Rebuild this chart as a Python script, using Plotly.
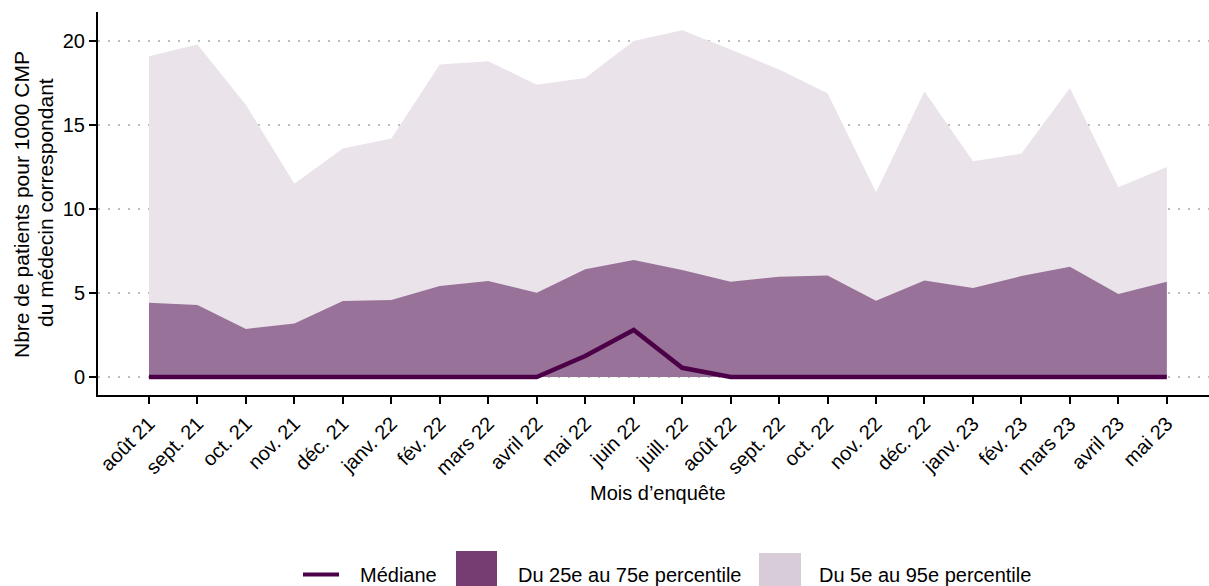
import plotly.graph_objects as go

months = ["août 21", "sept. 21", "oct. 21", "nov. 21", "déc. 21", "janv. 22",
          "fév. 22", "mars 22", "avril 22", "mai 22", "juin 22", "juill. 22",
          "août 22", "sept. 22", "oct. 22", "nov. 22", "déc. 22", "janv. 23",
          "fév. 23", "mars 23", "avril 23", "mai 23"]

p5 = [0, 0, 0, 0, 0, 0, 0, 0, 0, 0, 0, 0, 0, 0, 0, 0, 0, 0, 0, 0, 0, 0]
p95 = [19.1, 19.8, 16.2, 11.5, 13.6, 14.2, 18.6, 18.8, 17.4, 17.8, 20.0, 20.65,
       19.5, 18.3, 16.9, 11.0, 17.0, 12.85, 13.3, 17.2, 11.3, 12.5]
p25 = [0, 0, 0, 0, 0, 0, 0, 0, 0, 0, 0, 0, 0, 0, 0, 0, 0, 0, 0, 0, 0, 0]
p75 = [4.42, 4.29, 2.86, 3.19, 4.52, 4.58, 5.42, 5.71, 5.02, 6.41, 6.96, 6.37,
       5.67, 5.97, 6.05, 4.54, 5.75, 5.30, 6.01, 6.57, 4.94, 5.67]
median = [0, 0, 0, 0, 0, 0, 0, 0, 0, 1.25, 2.8, 0.55,
          0, 0, 0, 0, 0, 0, 0, 0, 0, 0]

legend_labels = ["Médiane", "Du 25e au 75e percentile", "Du 5e au 95e percentile"]
ytitle_lines = ["Nbre de patients pour 1000 CMP", "du médecin correspondant"]
xtitle = "Mois d’enquête"
yticks = [0, 5, 10, 15, 20]

C_MED = "#4B0047"
C_MID_FILL = "#987298"
C_LIGHT_FILL = "#EAE3EA"
C_MID_KEY = "#763D73"
C_LIGHT_KEY = "#D8CCD9"
FONT = "Liberation Sans, Arial, sans-serif"

fig = go.Figure()
fig.add_trace(go.Scatter(x=months, y=p5, mode="lines", line=dict(width=0, color=C_LIGHT_FILL),
                         showlegend=False, hoverinfo="skip"))
fig.add_trace(go.Scatter(x=months, y=p95, mode="lines", line=dict(width=0, color=C_LIGHT_FILL),
                         fill="tonexty", fillcolor=C_LIGHT_FILL, showlegend=False))
fig.add_trace(go.Scatter(x=months, y=p25, mode="lines", line=dict(width=0, color=C_MID_FILL),
                         showlegend=False, hoverinfo="skip"))
fig.add_trace(go.Scatter(x=months, y=p75, mode="lines", line=dict(width=0, color=C_MID_FILL),
                         fill="tonexty", fillcolor=C_MID_FILL, showlegend=False))
fig.add_trace(go.Scatter(x=months, y=median, mode="lines", line=dict(width=4.5, color=C_MED),
                         showlegend=False))

W, H = 1209, 586
L, R, T, B = 98, 0, 12, 191
PW = W - L - R
PH = H - T - B


def px(x):
    return (x - L) / PW


def py(y):
    return (H - B - y) / PH


fig.update_layout(
    width=W, height=H,
    margin=dict(l=L, r=R, t=T, b=B),
    paper_bgcolor="white", plot_bgcolor="white",
    font=dict(family=FONT, size=20, color="black"),
    showlegend=False,
    xaxis=dict(
        type="category", range=[-1.052, 21.87],
        tickmode="linear", tick0=0, dtick=1, tickangle=-45,
        showgrid=False, zeroline=False,
        showline=True, linecolor="black", linewidth=2,
        ticks="outside", ticklen=7, tickwidth=2, tickcolor="black",
        tickfont=dict(size=20, color="black"),
    ),
    yaxis=dict(
        range=[-1.07, 21.73], tickvals=yticks,
        showgrid=True, gridcolor="#BDBDBD", gridwidth=2, griddash="2px,8px",
        zeroline=False,
        showline=True, linecolor="black", linewidth=2,
        ticks="outside", ticklen=7, tickwidth=2, tickcolor="black",
        tickfont=dict(size=20, color="black"),
    ),
)

annotations = [
    dict(text=ytitle_lines[0], xref="paper", yref="paper", x=px(21), y=py(205), textangle=-90,
         xanchor="center", yanchor="middle", showarrow=False,
         font=dict(size=21, color="black")),
    dict(text=ytitle_lines[1], xref="paper", yref="paper", x=px(45), y=py(203), textangle=-90,
         xanchor="center", yanchor="middle", showarrow=False,
         font=dict(size=21, color="black")),
    dict(text=xtitle, xref="paper", yref="paper", x=px(658), y=py(493),
         xanchor="center", yanchor="middle", showarrow=False,
         font=dict(size=20, color="black")),
    dict(text=legend_labels[0], xref="paper", yref="paper", x=px(358), y=py(575),
         xanchor="left", yanchor="middle", showarrow=False, font=dict(size=20)),
    dict(text=legend_labels[1], xref="paper", yref="paper", x=px(516), y=py(575),
         xanchor="left", yanchor="middle", showarrow=False, font=dict(size=20)),
    dict(text=legend_labels[2], xref="paper", yref="paper", x=px(817), y=py(575),
         xanchor="left", yanchor="middle", showarrow=False, font=dict(size=20)),
]
shapes = [
    dict(type="line", xref="paper", yref="paper", x0=px(303), x1=px(339),
         y0=py(574.5), y1=py(574.5), line=dict(color=C_MED, width=4)),
    dict(type="rect", xref="paper", yref="paper", x0=px(456), x1=px(497),
         y0=py(551), y1=py(600), fillcolor=C_MID_KEY, line=dict(width=0)),
    dict(type="rect", xref="paper", yref="paper", x0=px(759), x1=px(801),
         y0=py(553), y1=py(600), fillcolor=C_LIGHT_KEY, line=dict(width=0)),
]
fig.update_layout(annotations=annotations, shapes=shapes)

fig.write_html(
    "out.html",
    config={"displayModeBar": False, "staticPlot": True},
    post_script="document.body.style.margin='0';document.body.style.overflow='hidden';",
)
